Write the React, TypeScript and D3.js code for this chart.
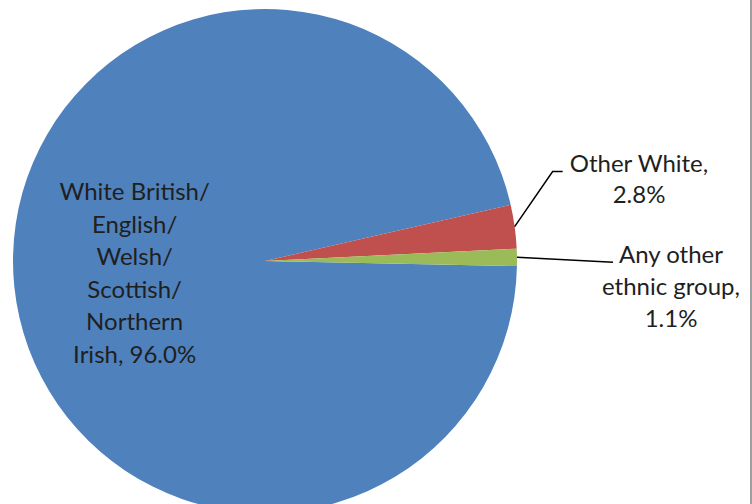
import React from "react";
import * as d3 from "d3";

// Ethnic group shares (%)
const categories = [
  "White British/ English/ Welsh/ Scottish/ Northern Irish",
  "Other White",
  "Any other ethnic group",
];
const values = [96.0, 2.8, 1.1];
const colors = ["#4F81BD", "#C0504D", "#9BBB59"];

// Label text lines per slice
const labelLines = [
  ["White British/", "English/", "Welsh/", "Scottish/", "Northern", "Irish, 96.0%"],
  ["Other White,", "2.8%"],
  ["Any other", "ethnic group,", "1.1%"],
];

const W = 752;
const H = 504;
const cx = 265;
const cy = 261;
const R = 252;
const FONT = "Lato, 'Open Sans', sans-serif";
const FS = 24;
const LH = 32.5;

export default function App() {
  const deg = Math.PI / 180;
  const total = d3.sum(values);
  // Boundary between the first and second slice sits at 77.1° (clockwise from 12 o'clock)
  const a0 = 77.1 * deg - (values[0] / total) * 2 * Math.PI;
  const pie = d3
    .pie<number>()
    .sort(null)
    .value((d) => d)
    .startAngle(a0)
    .endAngle(a0 + 2 * Math.PI);
  const arcs = pie(values);
  const arc = d3.arc<d3.PieArcDatum<number>>().innerRadius(0).outerRadius(R);

  const mid = (a: d3.PieArcDatum<number>) => (a.startAngle + a.endAngle) / 2;
  const polar = (ang: number, r: number): [number, number] => [
    cx + r * Math.sin(ang),
    cy - r * Math.cos(ang),
  ];

  // Inside label for the big slice
  const [wx, wy] = polar(mid(arcs[0]), R * 0.52);
  const wbTop = wy - ((labelLines[0].length - 1) * LH) / 2 + 7;

  // Outside labels with leader lines
  const owStart = polar(mid(arcs[1]), R);
  const owElbow: [number, number] = [owStart[0] + 38, owStart[1] - 55];
  const owEnd: [number, number] = [owElbow[0] + 10, owElbow[1]];
  const owText: [number, number] = [639, 172];

  const aoStart = polar(mid(arcs[2]), R);
  const aoEnd: [number, number] = [aoStart[0] + 96, aoStart[1] + 5];
  const aoText: [number, number] = [671, 263];

  return (
    <svg
      width={W}
      height={H}
      style={{ position: "absolute", left: 0, top: 0, background: "#fff" }}
    >
      <g transform={`translate(${cx},${cy})`}>
        {arcs.map((a, i) => (
          <path key={categories[i]} d={arc(a) ?? ""} fill={colors[i]} />
        ))}
      </g>
      <g fontFamily={FONT} fontSize={FS} fill="#1f1f1f" textAnchor="middle">
        {labelLines[0].map((t, j) => (
          <text key={t} x={wx} y={wbTop + j * LH}>
            {t}
          </text>
        ))}
        {labelLines[1].map((t, j) => (
          <text key={t} x={owText[0]} y={owText[1] + j * 31}>
            {t}
          </text>
        ))}
        {labelLines[2].map((t, j) => (
          <text key={t} x={aoText[0]} y={aoText[1] + j * 32}>
            {t}
          </text>
        ))}
      </g>
      <polyline
        points={[owStart, owElbow, owEnd].map((p) => p.join(",")).join(" ")}
        fill="none"
        stroke="#000"
        strokeWidth={1.5}
      />
      <polyline
        points={[aoStart, aoEnd].map((p) => p.join(",")).join(" ")}
        fill="none"
        stroke="#000"
        strokeWidth={1.5}
      />
      <line x1={751} y1={0} x2={751} y2={H} stroke="#7f7f7f" strokeWidth={1.5} />
    </svg>
  );
}
